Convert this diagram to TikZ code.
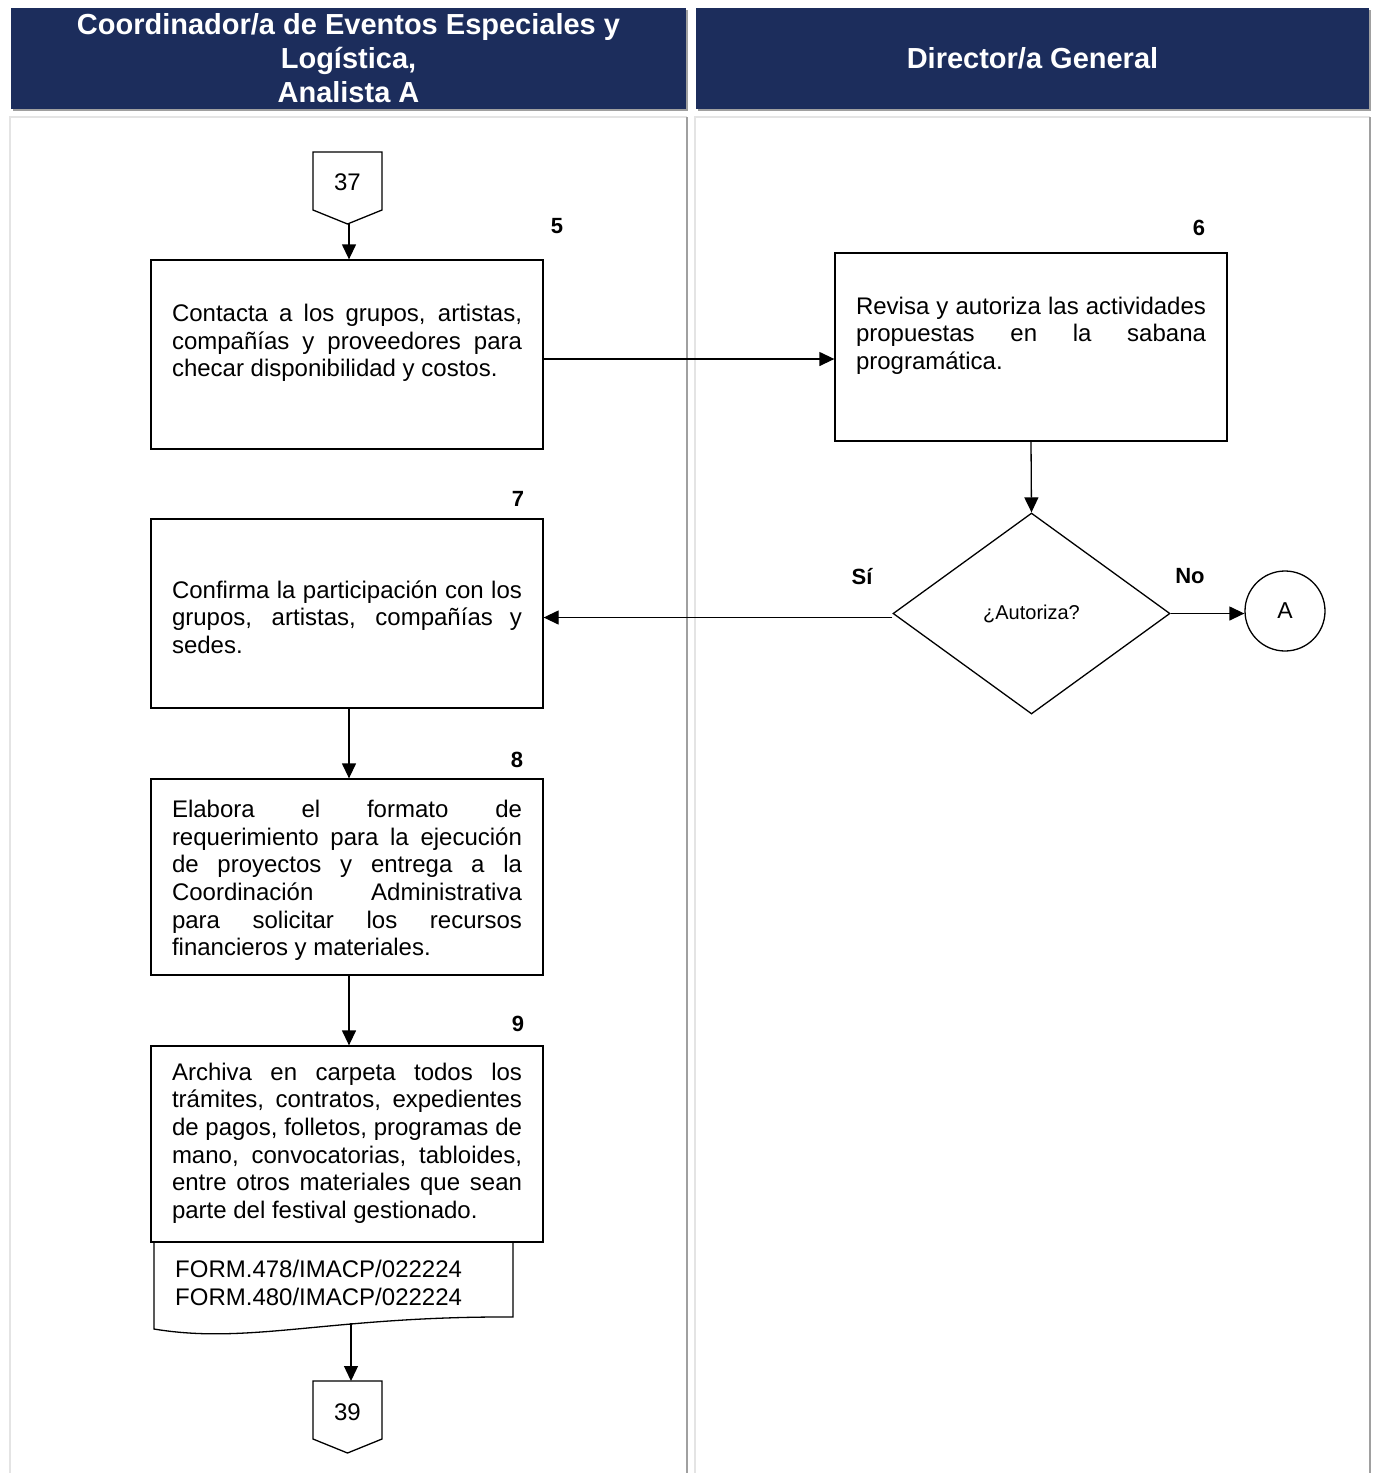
\documentclass[tikz,border=0pt]{standalone}
\usepackage{fontspec}
\setmainfont{Liberation Sans}
\usetikzlibrary{arrows.meta,shapes.geometric}
\definecolor{navy}{RGB}{28,45,92}
\definecolor{shadegray}{RGB}{160,160,160}
\definecolor{palegray}{RGB}{228,228,228}
\newcommand{\jl}[1]{\makebox[350pt][s]{\spaceskip=0pt\xspaceskip=0pt #1}}
\begin{document}
\begin{tikzpicture}[x=1pt,y=-1pt,
  box/.style={draw, line width=1.3pt, minimum width=392pt, inner sep=0pt},
  txt/.style={text width=350pt, align=justify, inner sep=0pt, font=\fontsize{24}{27.6}\selectfont},
  arr/.style={line width=1.3pt, -{Triangle[length=15pt,width=14pt]}},
  num/.style={font=\fontsize{22}{26}\selectfont\bfseries, inner sep=0pt},
  hdr/.style={fill=navy, text=white, inner sep=0pt, font=\fontsize{29}{34}\selectfont\bfseries, align=center},
  conn/.style={draw, line width=1.3pt},
  small/.style={font=\fontsize{24}{28}\selectfont, inner sep=0pt}]
\useasboundingbox (0,0) rectangle (1375,1473);
\fill[white] (0,0) rectangle (1375,1473);
% lanes
\draw[palegray, line width=1.5pt] (10,1473) -- (10,117) -- (687,117);
\draw[shadegray, line width=2.5pt] (687,117) -- (687,1473);
\draw[palegray, line width=1.5pt] (695,1473) -- (695,117) -- (1370,117);
\draw[shadegray, line width=2.5pt] (1370,117) -- (1370,1473);
% headers
\fill[shadegray] (13,10) rectangle (688,111);
\fill[shadegray] (698,10) rectangle (1371,111);
\node[hdr, minimum width=675pt, minimum height=101pt] (h1) at (348.5,58.5)
  {Coordinador/a de Eventos Especiales y\\Logística,\\Analista A};
\node[hdr, minimum width=673pt, minimum height=101pt] (h2) at (1032.5,58.5) {Director/a General};

% connector 37
\draw[conn] (313,152) -- (382,152) -- (382,210) -- (347.5,224) -- (313,210) -- cycle;
\node[small] (c37) at (347.5,182) {37};
\coordinate (c37b) at (349,224);

% box 5
\node[box, minimum height=189pt] (b5) at (347,354.5) {};
\node[txt] (t5) at (347,343) {\jl{Contacta a los grupos, artistas,}\\\jl{compañías y proveedores para}\\checar disponibilidad y costos.};
\node[num] (n5) at (557,226) {5};

% box 6
\node[box, minimum height=188pt] (b6) at (1031,347) {};
\node[txt] (t6) at (1031,335.5) {\jl{Revisa y autoriza las actividades}\\\jl{propuestas en la sabana}\\programática.};
\node[num] (n6) at (1199,228) {6};

% decision
\node[draw, diamond, line width=1.3pt, minimum width=277pt, minimum height=201pt, inner sep=0pt,
  font=\fontsize{20}{24}\selectfont] (d) at (1031.5,613.5) {¿Autoriza?};
\node[num] (si) at (862,577) {Sí};
\node[num] (no) at (1190,576) {No};
\node[draw, circle, line width=1.3pt, minimum size=80pt, inner sep=0pt, font=\fontsize{23}{26}\selectfont] (A) at (1285,611) {A};

% box 7
\node[box, minimum height=189pt] (b7) at (347,613.5) {};
\node[txt] (t7) at (347,617) {\jl{Confirma la participación con los}\\\jl{grupos, artistas, compañías y}\\sedes.};
\node[num] (n7) at (518,499) {7};

% box 8
\node[box, minimum height=196pt] (b8) at (347,877) {};
\node[txt] (t8) at (347,880.5) {\jl{Elabora el formato de}\\\jl{requerimiento para la ejecución}\\\jl{de proyectos y entrega a la}\\\jl{Coordinación Administrativa}\\\jl{para solicitar los recursos}\\financieros y materiales.};
\node[num] (n8) at (517,760) {8};

% box 9
\node[box, minimum height=196pt] (b9) at (347,1144) {};
\node[txt] (t9) at (347,1143) {\jl{Archiva en carpeta todos los}\\\jl{trámites, contratos, expedientes}\\\jl{de pagos, folletos, programas de}\\\jl{mano, convocatorias, tabloides,}\\\jl{entre otros materiales que sean}\\parte del festival gestionado.};
\node[num] (n9) at (518,1024) {9};

% document
\draw[conn] (154,1243) -- (154,1329) .. controls (250,1345) and (330,1316) .. (513,1317) -- (513,1243);
\node[anchor=west, align=left, inner sep=0pt, font=\fontsize{24}{27.6}\selectfont] (doc) at (175,1283)
  {FORM.478/IMACP/022224\\FORM.480/IMACP/022224};
\coordinate (docb) at (351,1323);

% connector 39
\draw[conn] (313,1381) -- (382,1381) -- (382,1439) -- (347.5,1453) -- (313,1439) -- cycle;
\node[small] (c39) at (347.5,1412) {39};
\coordinate (c39t) at (351,1381);

% arrows
\draw[arr] (c37b) -- (b5.north -| c37b);
\draw[arr] ([yshift=-4.5pt]b5.east) -- ([yshift=-4.5pt]b5.east -| b6.west);
\draw[arr] (b6.south) -- (d.north);
\draw[arr] (d.east) -- (d.east -| A.west);
\draw[arr] ([yshift=-4pt]d.west) -- ([yshift=-4pt]d.west -| b7.east);
\draw[arr] ([xshift=2pt]b7.south) -- ([xshift=2pt]b8.north);
\draw[arr] ([xshift=2pt]b8.south) -- ([xshift=2pt]b9.north);
\draw[arr] (docb) -- (c39t);
\end{tikzpicture}
\end{document}
